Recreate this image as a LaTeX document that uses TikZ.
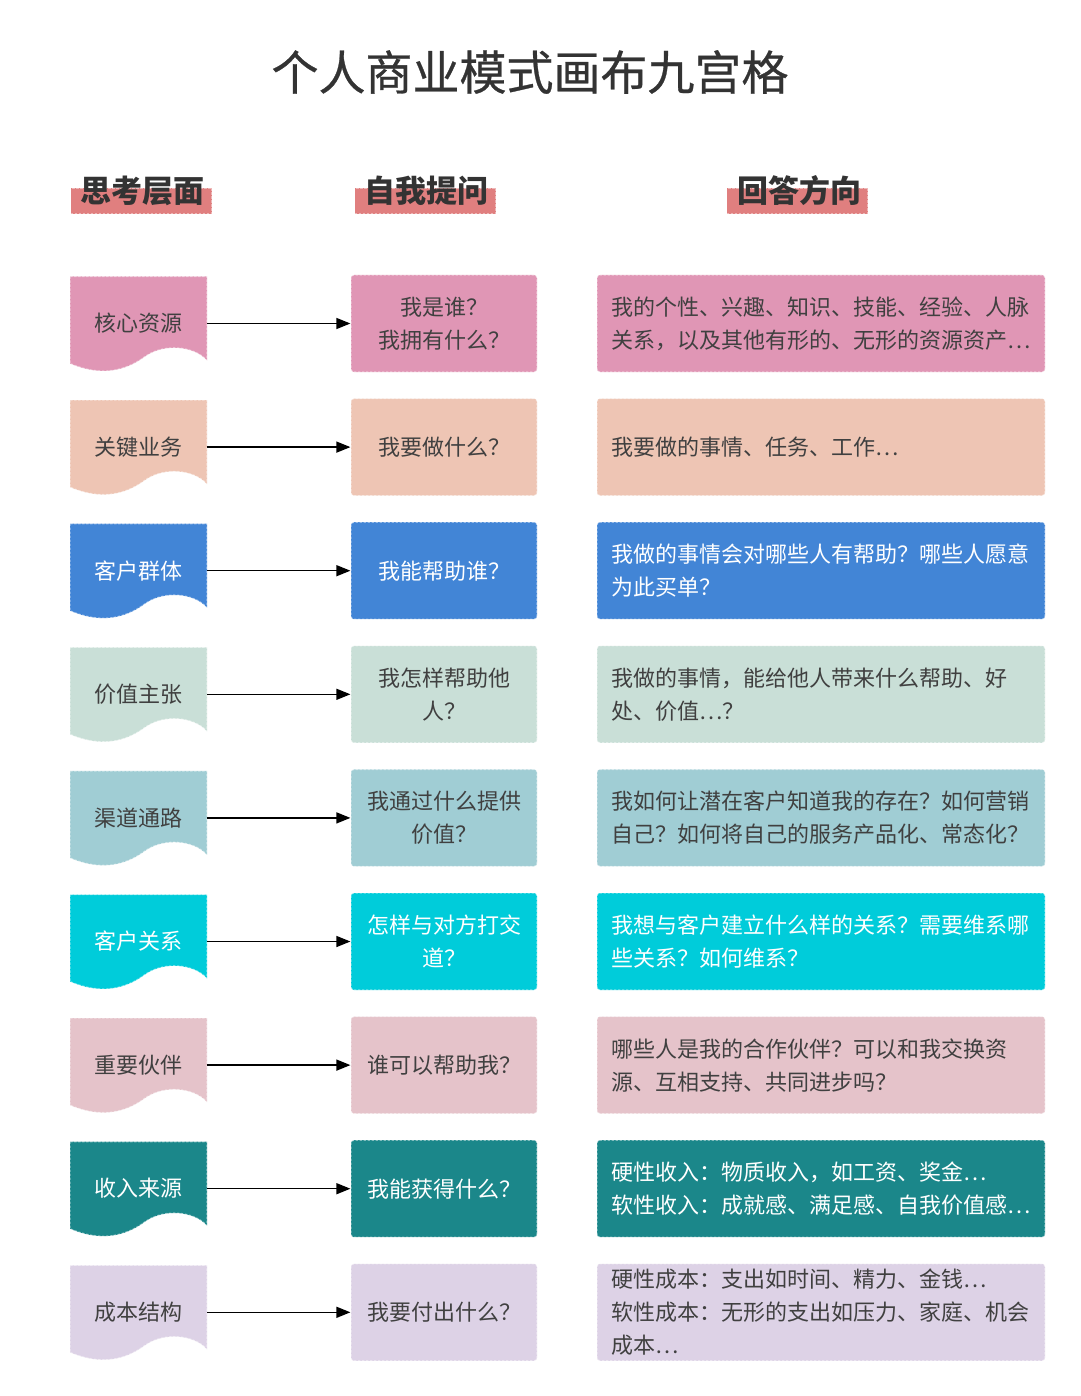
\documentclass[tikz,border=0pt]{standalone}
\usepackage{fontspec}
\setmainfont{Noto Sans CJK SC}
\newfontfamily\titlefont[FakeBold=0.6]{Noto Sans CJK SC}
\usetikzlibrary{arrows.meta}
\definecolor{txt}{HTML}{404040}
\definecolor{ttl}{HTML}{333333}
\definecolor{hl}{HTML}{E07F7F}
\definecolor{cA}{HTML}{E096B5}
\definecolor{cB}{HTML}{EEC5B4}
\definecolor{cC}{HTML}{4285D6}
\definecolor{cD}{HTML}{C9DFD7}
\definecolor{cE}{HTML}{A0CDD4}
\definecolor{cF}{HTML}{00CCDA}
\definecolor{cG}{HTML}{E5C3CA}
\definecolor{cH}{HTML}{1B878A}
\definecolor{cI}{HTML}{DDD2E6}
\tikzset{
  body/.style={font=\fontsize{22}{33}\selectfont},
  edge/.style={draw=white, draw opacity=0.45, line width=1.2pt, dash pattern=on 2.5pt off 1.5pt},
  leftlbl/.style={body, minimum width=137pt, minimum height=94pt, inner sep=0pt},
  midbox/.style={body, edge, rounded corners=3pt, minimum width=186pt, minimum height=97pt, align=center, inner sep=0pt},
  rightbox/.style={body, edge, rounded corners=3pt, minimum width=448pt, minimum height=97pt, text width=420pt, inner xsep=14pt, inner ysep=0pt, align=left},
  hlbox/.style={fill=hl, edge, minimum width=141pt, minimum height=26pt, inner sep=0pt},
  hdr/.style={font=\fontsize{31}{36}\selectfont\bfseries, text=ttl, inner sep=0pt},
  arr/.style={-{Triangle[length=14pt,width=11pt]}, line width=1.4pt, black}
}
\newcommand\bizrow[6]{%
  \pgfmathsetmacro\rowy{323.5+123.6*(#1-1)}
  \path[fill=#2, edge] (70,\rowy-47) -- (207,\rowy-47) -- (207,\rowy+37)
    .. controls (195,\rowy+23) and (165,\rowy+19) .. (145,\rowy+33)
    .. controls (125,\rowy+48) and (100,\rowy+53) .. (70,\rowy+40) -- cycle;
  \node[leftlbl, text=#3] (L#1) at (138.5,\rowy) {\raisebox{2pt}{#4}};
  \node[midbox, fill=#2, text=#3] (M#1) at (444,\rowy) {#5};
  \node[rightbox, fill=#2, text=#3] (R#1) at (821,\rowy) {#6};
  \draw[arr] (L#1.east) -- (M#1.west);
}
\begin{document}
\begin{tikzpicture}[x=1pt,y=-1pt]
\useasboundingbox (0,0) rectangle (1080,1396);
\fill[white] (0,0) rectangle (1080,1396);
\node[font=\titlefont\fontsize{47}{52}\selectfont, text=ttl] (title) at (530,72) {个人商业模式画布九宫格};
\node[hlbox] (hb1) at (141,201) {};
\node[hlbox] (hb2) at (425,201) {};
\node[hlbox] (hb3) at (797,201) {};
\node[hdr] (h1) at (142,191) {思考层面};
\node[hdr] (h2) at (426,191) {自我提问};
\node[hdr] (h3) at (799,191) {回答方向};
\bizrow{1}{cA}{txt}{核心资源}{我是谁？\\我拥有什么？}{我的个性、兴趣、知识、技能、经验、人脉\\关系，以及其他有形的、无形的资源资产⋯}
\bizrow{2}{cB}{txt}{关键业务}{我要做什么？}{我要做的事情、任务、工作⋯}
\bizrow{3}{cC}{white}{客户群体}{我能帮助谁？}{我做的事情会对哪些人有帮助？哪些人愿意\\为此买单？}
\bizrow{4}{cD}{txt}{价值主张}{我怎样帮助他\\人？}{我做的事情，能给他人带来什么帮助、好\\处、价值⋯？}
\bizrow{5}{cE}{txt}{渠道通路}{我通过什么提供\\价值？}{我如何让潜在客户知道我的存在？如何营销\\自己？如何将自己的服务产品化、常态化？}
\bizrow{6}{cF}{white}{客户关系}{怎样与对方打交\\道？}{我想与客户建立什么样的关系？需要维系哪\\些关系？如何维系？}
\bizrow{7}{cG}{txt}{重要伙伴}{谁可以帮助我？}{哪些人是我的合作伙伴？可以和我交换资\\源、互相支持、共同进步吗？}
\bizrow{8}{cH}{white}{收入来源}{我能获得什么？}{硬性收入：物质收入，如工资、奖金⋯\\软性收入：成就感、满足感、自我价值感⋯}
\bizrow{9}{cI}{txt}{成本结构}{我要付出什么？}{硬性成本：支出如时间、精力、金钱⋯\\软性成本：无形的支出如压力、家庭、机会\\成本⋯}
\end{tikzpicture}
\end{document}
